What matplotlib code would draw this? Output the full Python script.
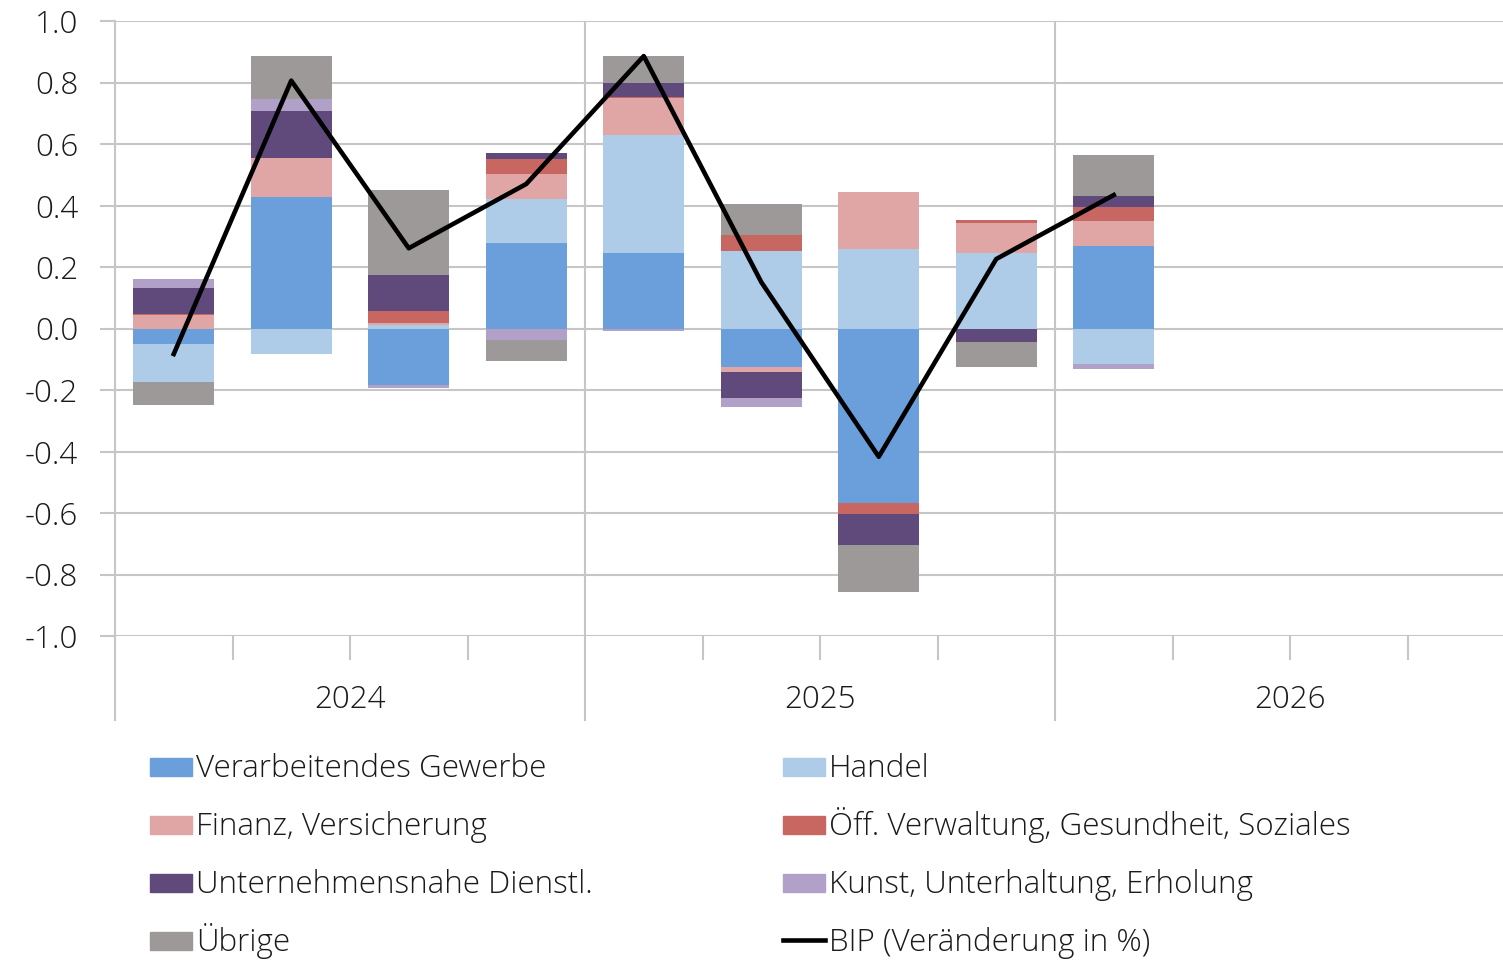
import numpy as np
import matplotlib.pyplot as plt
import matplotlib.transforms as mtransforms
from matplotlib.patches import Rectangle
from matplotlib.lines import Line2D

plt.rcParams['font.family'] = ['Open Sans', 'DejaVu Sans']

# quarterly contributions, 2024 Q1 .. 2026 Q1
years = ['2024', '2025', '2026']
n_slots = 12

names = ['Verarbeitendes Gewerbe', 'Handel', 'Finanz, Versicherung',
         'Öff. Verwaltung, Gesundheit, Soziales', 'Unternehmensnahe Dienstl.',
         'Kunst, Unterhaltung, Erholung', 'Übrige']
verarbeitend = [-0.051, 0.428, -0.184, 0.278, 0.245, -0.126, -0.569, 0.0, 0.269]
handel = [-0.123, -0.084, 0.013, 0.142, 0.384, 0.251, 0.260, 0.247, -0.114]
finanz = [0.043, 0.128, 0.005, 0.084, 0.119, -0.014, 0.183, 0.095, 0.080]
oeff = [0.005, 0.0, 0.038, 0.047, 0.006, 0.053, -0.034, 0.010, 0.045]
unternehmen = [0.085, 0.152, 0.119, 0.020, 0.045, -0.087, -0.100, -0.045, 0.037]
kunst = [0.029, 0.037, -0.009, -0.036, -0.008, -0.027, 0.0, 0.0, -0.018]
uebrige = [-0.074, 0.142, 0.274, -0.070, 0.086, 0.100, -0.154, -0.080, 0.133]
bip = [-0.083, 0.806, 0.261, 0.470, 0.886, 0.151, -0.417, 0.226, 0.434]
bip_name = 'BIP (Veränderung in %)'

colors = ['#6a9fdb', '#aecbe8', '#e0a6a5', '#c86762', '#5f4a7b', '#b1a0c7', '#9d9998']
series = [verarbeitend, handel, finanz, oeff, unternehmen, kunst, uebrige]
yticks = [-1.0, -0.8, -0.6, -0.4, -0.2, 0.0, 0.2, 0.4, 0.6, 0.8, 1.0]

grid_c = '#c6c6c6'
txt_c = '#1a1a1a'
fs = 22.6
fw = 'light'

fig = plt.figure(figsize=(15.03, 9.6), dpi=100)
ax = fig.add_axes([115/1503, 1-636/960, 1410/1503, 615/960])

x = np.arange(len(bip)) + 0.5
pos = np.zeros(len(bip))
neg = np.zeros(len(bip))
for name, vals, c in zip(names, series, colors):
    v = np.array(vals)
    bottom = np.where(v >= 0, pos, neg)
    ax.bar(x, v, bottom=bottom, width=0.69, color=c, label=name, zorder=3)
    pos = pos + np.clip(v, 0, None)
    neg = neg + np.clip(v, None, 0)

ax.plot(x, bip, color='black', lw=3.3, zorder=4, label=bip_name)

ax.set_xlim(0, n_slots)
ax.set_ylim(-1, 1)
ax.set_yticks(yticks)
ax.set_yticklabels(['%.1f' % t for t in yticks], fontsize=fs, color=txt_c, fontweight=fw)
ax.tick_params(axis='y', length=10.5, width=1.5, color=grid_c, pad=16)
ax.set_xticks([])
ax.grid(axis='y', color=grid_c, lw=1.5, zorder=0)
for xv in [4, 8]:
    ax.axvline(xv, color=grid_c, lw=1.5, zorder=0)
for s in ['top', 'right', 'bottom']:
    ax.spines[s].set_visible(False)
ax.spines['left'].set_color(grid_c)
ax.spines['left'].set_linewidth(1.5)
ax.spines['left'].set_bounds(-1, 1)

# category axis below the plot
tr = mtransforms.blended_transform_factory(ax.transData, ax.transAxes)
ax.plot([0, 0], [-0.137, 0], color=grid_c, lw=1.5, transform=tr, clip_on=False)
for q in range(1, n_slots + 1):
    ylow = -0.137 if q % 4 == 0 else -0.037
    ax.plot([q, q], [ylow, 0], color=grid_c, lw=1.5, transform=tr, clip_on=False)
for i, yr in enumerate(years):
    ax.text(i*4 + 2, -0.104, yr, transform=tr, ha='center', va='center',
            fontsize=fs, color=txt_c, fontweight=fw)

# legend drawn by hand, row-wise in two columns
entries = list(zip(names, colors)) + [(bip_name, None)]
W, H = 1503, 960
for k, (name, c) in enumerate(entries):
    row, col = k // 2, k % 2
    x0 = 150 if col == 0 else 783
    yc = 767 + row * 58
    if c is not None:
        fig.patches.append(Rectangle((x0/W, 1-(yc+9)/H), 42/W, 18/H, color=c,
                                     transform=fig.transFigure))
    else:
        fig.lines.append(Line2D([x0/W, (x0+42)/W], [1-(yc-1)/H, 1-(yc-1)/H], color='black',
                                lw=3.3, transform=fig.transFigure))
    fig.text((x0+46)/W, 1-(yc+10)/H, name, fontsize=fs, color=txt_c, fontweight=fw,
             ha='left', va='baseline')

fig.savefig('out.png', dpi=100)
